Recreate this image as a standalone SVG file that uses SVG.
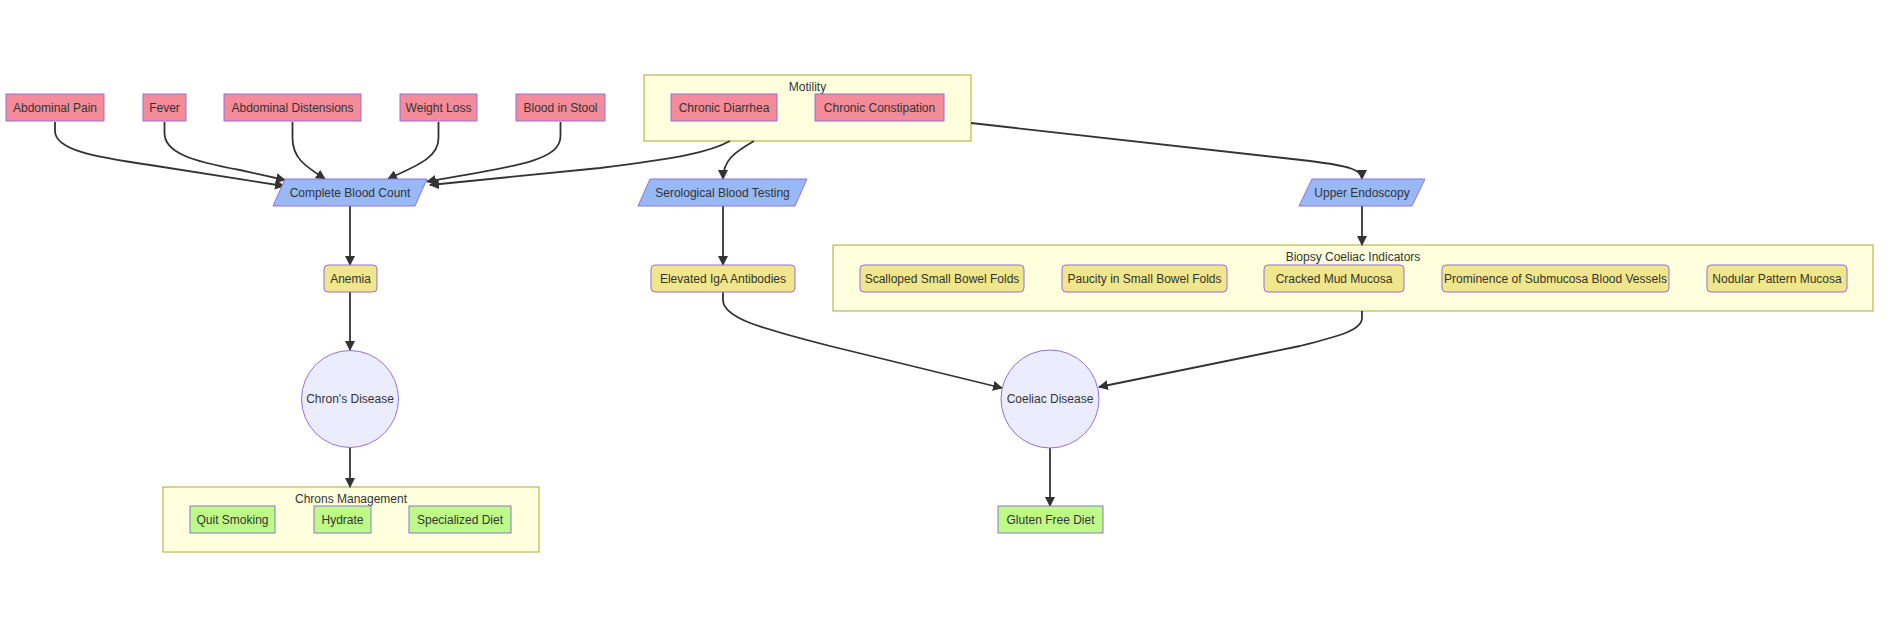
<svg xmlns="http://www.w3.org/2000/svg" width="1904" height="628" viewBox="0 0 1904 628">
<defs>
<style>
text{font-family:"Liberation Sans",Arial,sans-serif;font-size:12px;fill:#333;text-anchor:middle}
.sym rect{fill:#F38B99;stroke:#9370DB;stroke-width:1}
.test polygon{fill:#98B8F6;stroke:#9370DB;stroke-width:1}
.ind rect{fill:#F0E68C;stroke:#9370DB;stroke-width:1}
.mgmt rect{fill:#BEFB86;stroke:#9370DB;stroke-width:1}
.dis circle{fill:#ECECFF;stroke:#9370DB;stroke-width:1}
.cluster rect{fill:#FFFFDE;stroke:#AAAA33;stroke-width:1}
.edges path{fill:none;stroke:#333;stroke-width:1.8}
</style>
<marker id="arrow" viewBox="0 0 10 10" refX="9" refY="5" markerUnits="userSpaceOnUse" markerWidth="10" markerHeight="10" orient="auto">
<path d="M0,0 L10,5 L0,10 z" fill="#333"/>
</marker>
</defs>
<rect width="1904" height="628" fill="#fff"/>

<g id="cluster-motility" class="cluster"><rect x="644" y="75" width="327" height="66"/><text x="807.5" y="91">Motility</text></g>
<g id="cluster-biopsy" class="cluster"><rect x="833" y="245" width="1040" height="66"/><text x="1353" y="260.5">Biopsy Coeliac Indicators</text></g>
<g id="cluster-chrons" class="cluster"><rect x="163" y="487" width="376" height="65"/><text x="351" y="503">Chrons Management</text></g>

<g id="edges" class="edges">
<path marker-end="url(#arrow)" d="M55,122 L55,131 C55,150 95,157 150,165 L284,186"/>
<path marker-end="url(#arrow)" d="M164.5,122 L164.5,133 C164.5,152 190,161 240,170 L285,180"/>
<path marker-end="url(#arrow)" d="M292.5,122 L292.5,138 C292.5,158 305,166 325,179"/>
<path marker-end="url(#arrow)" d="M438.5,122 L438.5,138 C438.5,160 410,168 388,179"/>
<path marker-end="url(#arrow)" d="M560.5,122 L560.5,136 C560.5,160 520,166 427,181.5"/>
<path marker-end="url(#arrow)" d="M730,141 C710,152 680,158 600,168 L430,185"/>
<path marker-end="url(#arrow)" d="M754,141 C735,152 723,160 723,179"/>
<path marker-end="url(#arrow)" d="M971,123 L1310,161 C1350,166 1362,170 1362,179"/>
<path marker-end="url(#arrow)" d="M350,206 L350,265"/>
<path marker-end="url(#arrow)" d="M723,206 L723,265"/>
<path marker-end="url(#arrow)" d="M1362,206 L1362,245"/>
<path marker-end="url(#arrow)" d="M350,292 L350,350"/>
<path marker-end="url(#arrow)" d="M723,292 L723,300 C723,318 760,328 830,346 L1002,388"/>
<path marker-end="url(#arrow)" d="M1362,311 L1362,318 C1362,330 1340,336 1300,346 L1099,387"/>
<path marker-end="url(#arrow)" d="M350,447.5 L350,487"/>
<path marker-end="url(#arrow)" d="M1050,448 L1050,506"/>
</g>

<g id="abdominal-pain" class="sym"><rect x="6" y="94" width="98" height="27"/><text x="55" y="111.8">Abdominal Pain</text></g>
<g id="fever" class="sym"><rect x="143" y="94" width="43" height="27"/><text x="164.5" y="111.8">Fever</text></g>
<g id="abdominal-distensions" class="sym"><rect x="224" y="94" width="137" height="27"/><text x="292.5" y="111.8">Abdominal Distensions</text></g>
<g id="weight-loss" class="sym"><rect x="400" y="94" width="77" height="27"/><text x="438.5" y="111.8">Weight Loss</text></g>
<g id="blood-in-stool" class="sym"><rect x="516" y="94" width="89" height="27"/><text x="560.5" y="111.8">Blood in Stool</text></g>
<g id="chronic-diarrhea" class="sym"><rect x="671" y="94" width="106" height="27"/><text x="724" y="111.8">Chronic Diarrhea</text></g>
<g id="chronic-constipation" class="sym"><rect x="815" y="94" width="129" height="27"/><text x="879.5" y="111.8">Chronic Constipation</text></g>

<g id="complete-blood-count" class="test"><polygon points="285,179 427,179 415,206 273,206"/><text x="350" y="196.8">Complete Blood Count</text></g>
<g id="serological-blood-testing" class="test"><polygon points="650,179 807,179 795,206 638,206"/><text x="722.5" y="196.8">Serological Blood Testing</text></g>
<g id="upper-endoscopy" class="test"><polygon points="1312,179 1425,179 1412,206 1299,206"/><text x="1362" y="196.8">Upper Endoscopy</text></g>

<g id="anemia" class="ind"><rect x="324" y="265" width="53" height="27" rx="4"/><text x="350.5" y="282.8">Anemia</text></g>
<g id="elevated-iga" class="ind"><rect x="651" y="265" width="144" height="27" rx="4"/><text x="723" y="282.8">Elevated IgA Antibodies</text></g>
<g id="scalloped" class="ind"><rect x="860" y="265" width="164" height="27" rx="4"/><text x="942" y="282.8">Scalloped Small Bowel Folds</text></g>
<g id="paucity" class="ind"><rect x="1062" y="265" width="165" height="27" rx="4"/><text x="1144.5" y="282.8">Paucity in Small Bowel Folds</text></g>
<g id="cracked-mud" class="ind"><rect x="1264" y="265" width="140" height="27" rx="4"/><text x="1334" y="282.8">Cracked Mud Mucosa</text></g>
<g id="prominence" class="ind"><rect x="1442" y="265" width="227" height="27" rx="4"/><text x="1555.5" y="282.8">Prominence of Submucosa Blood Vessels</text></g>
<g id="nodular" class="ind"><rect x="1707" y="265" width="140" height="27" rx="4"/><text x="1777" y="282.8">Nodular Pattern Mucosa</text></g>

<g id="chrons-disease" class="dis"><circle cx="350" cy="399" r="48.5"/><text x="350" y="403.3">Chron's Disease</text></g>
<g id="coeliac-disease" class="dis"><circle cx="1050" cy="399" r="49"/><text x="1050" y="403.3">Coeliac Disease</text></g>

<g id="quit-smoking" class="mgmt"><rect x="190" y="506" width="85" height="27"/><text x="232.5" y="523.8">Quit Smoking</text></g>
<g id="hydrate" class="mgmt"><rect x="314" y="506" width="57" height="27"/><text x="342.5" y="523.8">Hydrate</text></g>
<g id="specialized-diet" class="mgmt"><rect x="409" y="506" width="102" height="27"/><text x="460" y="523.8">Specialized Diet</text></g>
<g id="gluten-free-diet" class="mgmt"><rect x="998" y="506" width="105" height="27"/><text x="1050.5" y="523.8">Gluten Free Diet</text></g>
</svg>
